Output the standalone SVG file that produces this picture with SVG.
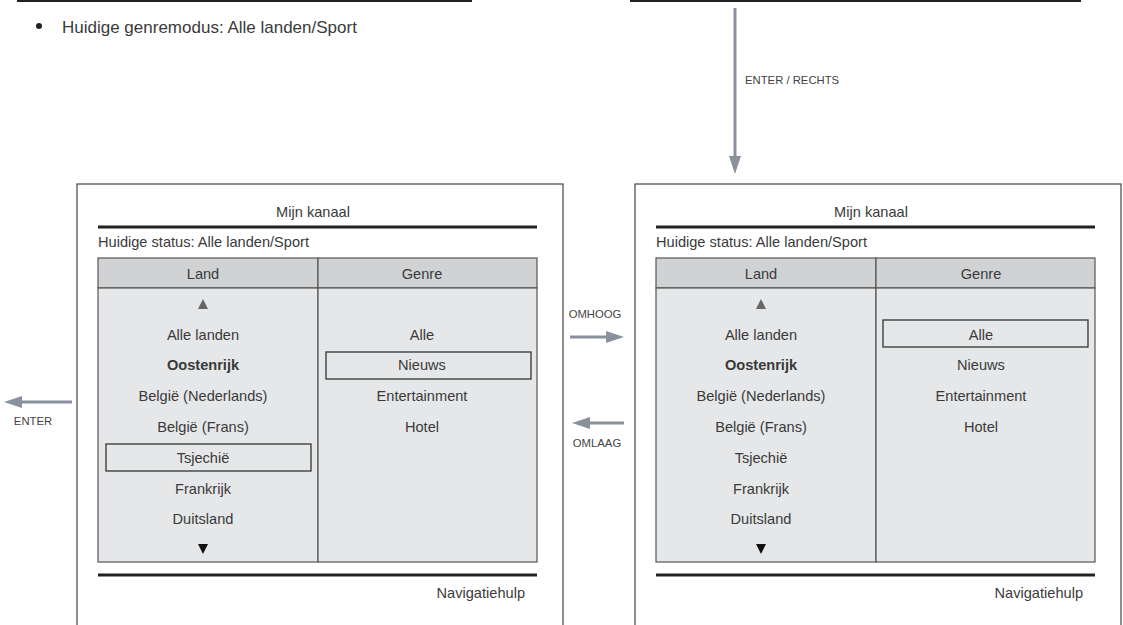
<svg xmlns="http://www.w3.org/2000/svg" width="1123" height="625" viewBox="0 0 1123 625">
<style>
text{font-family:"Liberation Sans",Arial,sans-serif;fill:#3a3a3a;}
.t{font-size:14.6px;}
.c{text-anchor:middle;}
.lbl{font-size:11.3px;fill:#444;}
.frame{fill:#fff;stroke:#444;stroke-width:1.2;}
.hdr{fill:#d1d2d4;stroke:#555;stroke-width:1.2;}
.body{fill:#e6e7e8;stroke:#555;stroke-width:1.2;}
.thick{stroke:#222;stroke-width:3;}
.sel{fill:none;stroke:#333;stroke-width:1.3;}
.arr{stroke:#8a909c;stroke-width:3;fill:none;}
.head{fill:#8a909c;}
.b{font-weight:bold;}
</style>
<g id="header">
<line x1="17" y1="0.5" x2="472" y2="0.5" class="thick" stroke-width="2"/>
<line x1="630" y1="0.5" x2="1081" y2="0.5" class="thick" stroke-width="2"/>
<circle cx="39" cy="26" r="3" fill="#222"/>
<text x="62" y="33" style="font-size:17px">Huidige genremodus: Alle landen/Sport</text>
</g>
<g id="connectors">
<line x1="735" y1="8" x2="735" y2="158" class="arr"/>
<polygon points="729,156 741,156 735,174" class="head"/>
<text x="745" y="84" class="lbl">ENTER / RECHTS</text>
<line x1="570" y1="337" x2="608" y2="337" class="arr"/>
<polygon points="606,331 624,337 606,343" class="head"/>
<text x="595" y="318" class="lbl c">OMHOOG</text>
<line x1="624" y1="423" x2="588" y2="423" class="arr"/>
<polygon points="590,417 572,423 590,429" class="head"/>
<text x="597" y="447" class="lbl c">OMLAAG</text>
<line x1="72" y1="402" x2="20" y2="402" class="arr"/>
<polygon points="22,396 4,402 22,408" class="head"/>
<text x="33" y="425" class="lbl c">ENTER</text>
</g>
<g id="panel-left">
<rect x="77" y="184" width="486" height="460" class="frame"/>
<text x="313" y="217" class="t c">Mijn kanaal</text>
<line x1="98" y1="227" x2="537" y2="227" class="thick"/>
<text x="98" y="247" class="t">Huidige status: Alle landen/Sport</text>
<rect x="98" y="258" width="220" height="30" class="hdr"/>
<rect x="318" y="258" width="219" height="30" class="hdr"/>
<rect x="98" y="288" width="220" height="274" class="body"/>
<rect x="318" y="288" width="219" height="274" class="body"/>
<text x="203" y="279" class="t c">Land</text>
<text x="422" y="279" class="t c">Genre</text>
<polygon points="198,309 208,309 203,299" fill="#666"/>
<text x="203" y="340" class="t c">Alle landen</text>
<text x="203" y="370" class="t c b">Oostenrijk</text>
<text x="203" y="401" class="t c">België (Nederlands)</text>
<text x="203" y="432" class="t c">België (Frans)</text>
<rect x="106" y="444" width="205" height="27" class="sel"/>
<text x="203" y="463" class="t c">Tsjechië</text>
<text x="203" y="494" class="t c">Frankrijk</text>
<text x="203" y="524" class="t c">Duitsland</text>
<polygon points="198,544 208,544 203,554" fill="#111"/>
<text x="422" y="340" class="t c">Alle</text>
<rect x="326" y="352" width="205" height="27" class="sel"/>
<text x="422" y="370" class="t c">Nieuws</text>
<text x="422" y="401" class="t c">Entertainment</text>
<text x="422" y="432" class="t c">Hotel</text>
<line x1="98" y1="575" x2="537" y2="575" class="thick"/>
<text x="525" y="598" class="t" text-anchor="end">Navigatiehulp</text>
</g>
<g id="panel-right">
<rect x="635" y="184" width="486" height="460" class="frame"/>
<text x="871" y="217" class="t c">Mijn kanaal</text>
<line x1="656" y1="227" x2="1095" y2="227" class="thick"/>
<text x="656" y="247" class="t">Huidige status: Alle landen/Sport</text>
<rect x="656" y="258" width="220" height="30" class="hdr"/>
<rect x="876" y="258" width="219" height="30" class="hdr"/>
<rect x="656" y="288" width="220" height="274" class="body"/>
<rect x="876" y="288" width="219" height="274" class="body"/>
<text x="761" y="279" class="t c">Land</text>
<text x="981" y="279" class="t c">Genre</text>
<polygon points="756,309 766,309 761,299" fill="#666"/>
<text x="761" y="340" class="t c">Alle landen</text>
<text x="761" y="370" class="t c b">Oostenrijk</text>
<text x="761" y="401" class="t c">België (Nederlands)</text>
<text x="761" y="432" class="t c">België (Frans)</text>
<text x="761" y="463" class="t c">Tsjechië</text>
<text x="761" y="494" class="t c">Frankrijk</text>
<text x="761" y="524" class="t c">Duitsland</text>
<polygon points="756,544 766,544 761,554" fill="#111"/>
<rect x="883" y="320" width="205" height="27" class="sel"/>
<text x="981" y="340" class="t c">Alle</text>
<text x="981" y="370" class="t c">Nieuws</text>
<text x="981" y="401" class="t c">Entertainment</text>
<text x="981" y="432" class="t c">Hotel</text>
<line x1="656" y1="575" x2="1095" y2="575" class="thick"/>
<text x="1083" y="598" class="t" text-anchor="end">Navigatiehulp</text>
</g>
</svg>
